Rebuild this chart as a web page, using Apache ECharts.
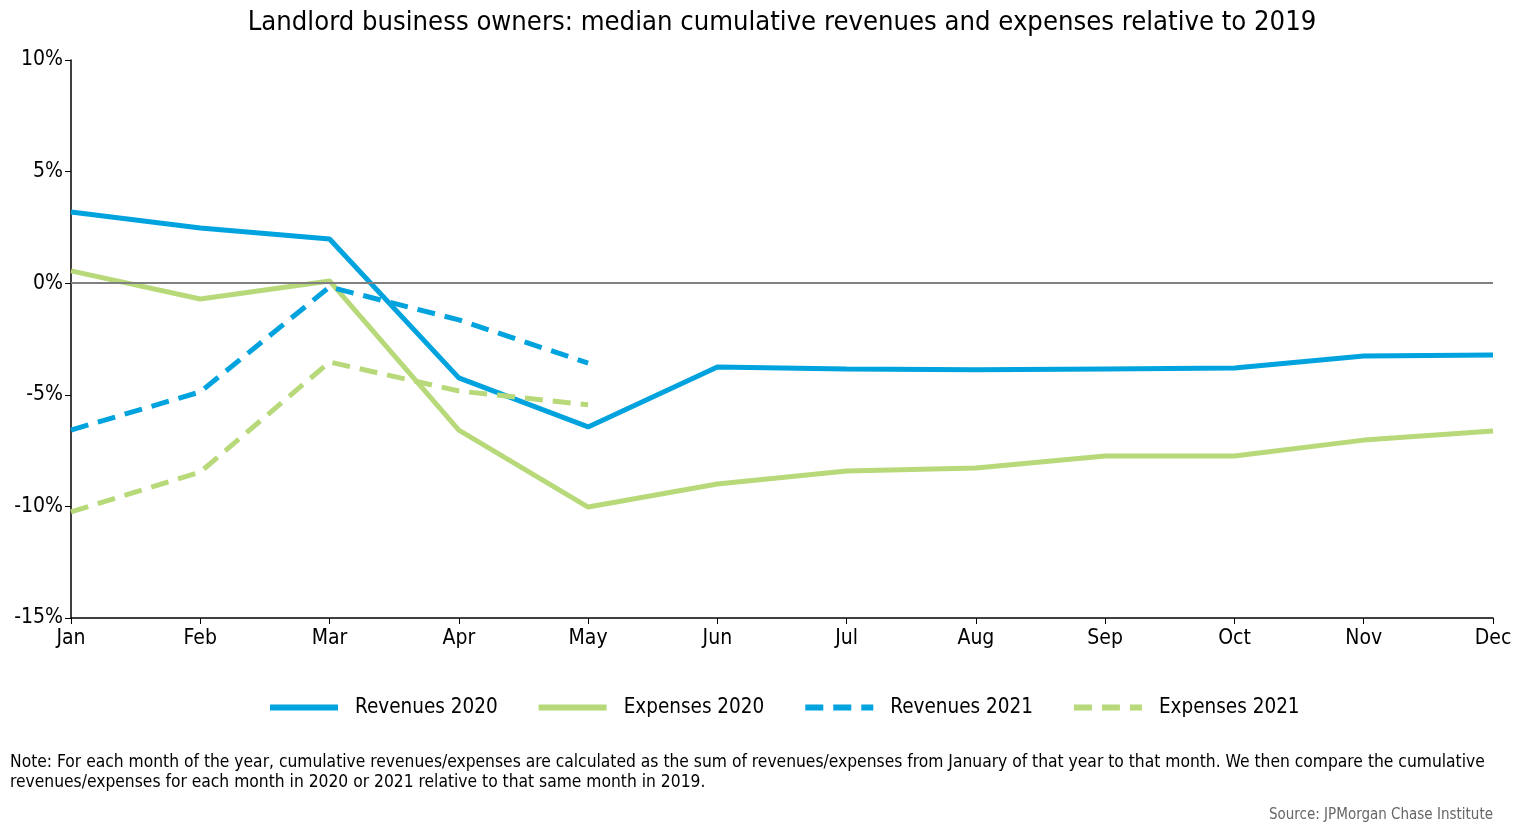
<!DOCTYPE html>
<html><head><meta charset="utf-8">
<script src="https://cdn.jsdelivr.net/npm/echarts@6/dist/echarts.min.js"></script>
<style>html,body{margin:0;padding:0;background:#fff;}#c{width:1520px;height:833px;}</style>
</head><body><div id="c"></div>
<script>
const months = ['Jan','Feb','Mar','Apr','May','Jun','Jul','Aug','Sep','Oct','Nov','Dec'];
const revenues2020 = [3.19, 2.47, 1.98, -4.24, -6.44, -3.75, -3.84, -3.88, -3.84, -3.80, -3.26, -3.22];
const expenses2020 = [0.55, -0.71, 0.10, -6.58, -10.03, -9.00, -8.41, -8.28, -7.74, -7.74, -7.03, -6.62];
const revenues2021 = [-6.58, -4.87, -0.17, -1.64, -3.58];
const expenses2021 = [-10.25, -8.46, -3.53, -4.83, -5.45];
const yTicks = [-15, -10, -5, 0, 5, 10];

const FONT = "'Liberation Sans Narrow','DejaVu Sans Condensed','Roboto Condensed',sans-serif";
const BLUE = '#00A3DD', GREEN = '#B8D97A';
const chart = echarts.init(document.getElementById('c'));
function mk(name, data, color, dashed) {
  return {
    name, type: 'line', data, symbol: 'none', smooth: false,
    lineStyle: { color, width: 5, type: dashed ? [18, 10] : 'solid', cap: 'butt' },
    itemStyle: { color },
    emphasis: { disabled: true }
  };
}
const series = [
  mk('Revenues 2020', revenues2020, BLUE, false),
  mk('Expenses 2020', expenses2020, GREEN, false),
  mk('Revenues 2021', revenues2021, BLUE, true),
  mk('Expenses 2021', expenses2021, GREEN, true)
];
series.unshift({
  type: 'line', data: [], silent: true,
  markLine: { silent: true, symbol: 'none', label: { show: false },
    lineStyle: { color: '#808080', width: 2, type: 'solid' },
    data: [{ yAxis: 0 }] }
});
chart.setOption({
  animation: false,
  textStyle: { fontFamily: FONT },
  grid: { left: 71, right: 27, top: 60, bottom: 215 },
  legend: {
    data: ['Revenues 2020', 'Expenses 2020', 'Revenues 2021', 'Expenses 2021'],
    bottom: 110, left: 262, itemWidth: 68, itemHeight: 14, itemGap: 38,
    itemStyle: { opacity: 0 },
    lineStyle: { width: 6 },
    textStyle: { fontFamily: FONT, fontSize: 20.5, color: '#000', padding: [0, 0, 0, 12] }
  },
  xAxis: {
    type: 'category', data: months, boundaryGap: false,
    axisLine: { onZero: false, lineStyle: { color: '#000', width: 1.5 } },
    axisTick: { show: true, alignWithLabel: true, length: 6, lineStyle: { color: '#000' } },
    axisLabel: { fontFamily: FONT, fontSize: 21, color: '#000', margin: 10 },
    splitLine: { show: false }
  },
  yAxis: {
    type: 'value', min: yTicks[0], max: yTicks[yTicks.length - 1], interval: 5,
    axisLine: { show: true, lineStyle: { color: '#000', width: 1.5 } },
    axisTick: { show: true, length: 6, lineStyle: { color: '#000' } },
    axisLabel: { fontFamily: FONT, fontSize: 21, color: '#000', margin: 8, formatter: v => v + '%' },
    splitLine: { show: false }
  },
  graphic: [
    { type: 'text', x: 782, y: 9, style: { text: 'Landlord business owners: median cumulative revenues and expenses relative to 2019', textAlign: 'center', fontFamily: FONT, fontSize: 27.2, fill: '#000' } },
    { type: 'text', left: 10, top: 753, style: { text: 'Note: For each month of the year, cumulative revenues/expenses are calculated as the sum of revenues/expenses from January of that year to that month. We then compare the cumulative\nrevenues/expenses for each month in 2020 or 2021 relative to that same month in 2019.', fontFamily: FONT, fontSize: 17.3, lineHeight: 20, fill: '#000' } },
    { type: 'text', right: 27, top: 808, style: { text: 'Source: JPMorgan Chase Institute', fontFamily: FONT, fontSize: 15, fill: '#666' } }
  ],
  series
});
</script></body></html>
